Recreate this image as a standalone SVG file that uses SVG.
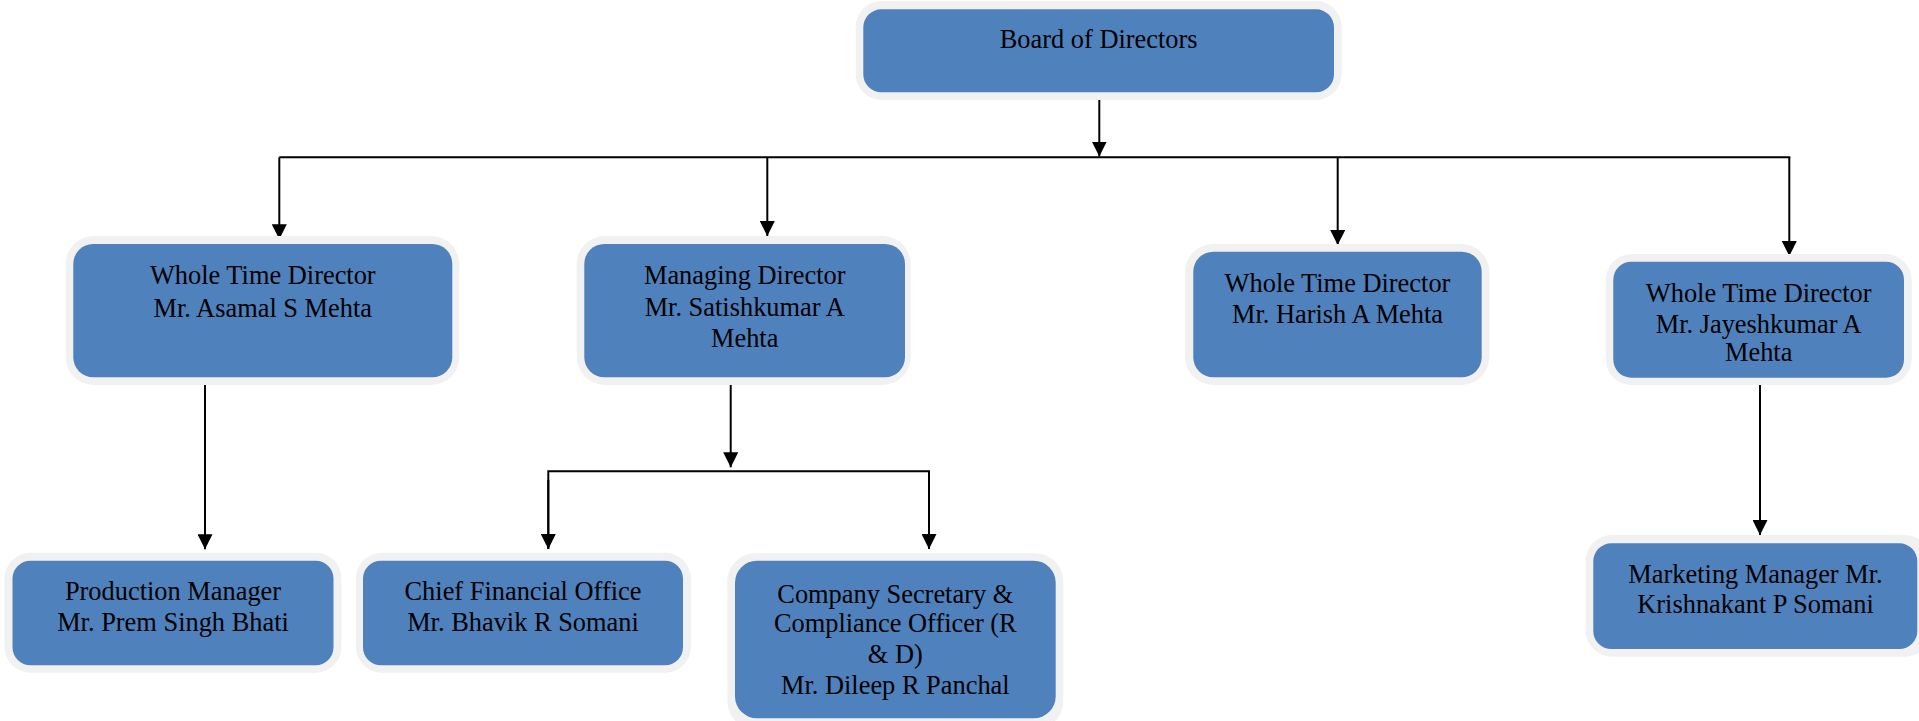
<svg xmlns="http://www.w3.org/2000/svg" width="1919" height="721" viewBox="0 0 1919 721">
<style>
.outer{fill:#F1F1F1;}
.inner{fill:#4F81BD;}
.t{font-family:"Liberation Serif","Times New Roman",serif;font-size:26.4px;fill:#000;text-anchor:middle;}
.c{fill:none;stroke:#000;stroke-width:2;}
</style>
<defs>
<marker id="arr" markerUnits="userSpaceOnUse" viewBox="0 0 15 15" refX="15" refY="7.5" markerWidth="15" markerHeight="15" orient="auto">
<path d="M0,0 L15,7.5 L0,15 z" fill="#000"/>
</marker>
</defs>
<rect width="1919" height="721" fill="#fff"/>
<g id="connectors">
<line class="c" x1="1099.3" y1="97" x2="1099.3" y2="156.5" marker-end="url(#arr)"/>
<line class="c" x1="279.3" y1="157.3" x2="1790.3" y2="157.3"/>
<line class="c" x1="279.3" y1="157.3" x2="279.3" y2="239.3" marker-end="url(#arr)"/>
<line class="c" x1="767.3" y1="157.3" x2="767.3" y2="236" marker-end="url(#arr)"/>
<line class="c" x1="1337.7" y1="157.3" x2="1337.7" y2="245" marker-end="url(#arr)"/>
<line class="c" x1="1789.3" y1="157.3" x2="1789.3" y2="256" marker-end="url(#arr)"/>
<line class="c" x1="205" y1="381.7" x2="205" y2="549.3" marker-end="url(#arr)"/>
<line class="c" x1="730.7" y1="377.3" x2="730.7" y2="467.3" marker-end="url(#arr)"/>
<polyline class="c" points="548.3,549 548.3,471.3 929,471.3 929,549"/>
<line class="c" x1="548.3" y1="480" x2="548.3" y2="549" marker-end="url(#arr)"/>
<line class="c" x1="929" y1="480" x2="929" y2="549" marker-end="url(#arr)"/>
<line class="c" x1="1760" y1="378" x2="1760" y2="535" marker-end="url(#arr)"/>
</g>
<g id="board">
<rect class="outer" x="855.7" y="1" width="486" height="99" rx="26"/>
<rect class="inner" x="863.3" y="9.3" width="470.7" height="83" rx="18"/>
<text class="t" x="1098.7" y="47.7">Board of Directors</text>
</g>
<g id="asamal">
<rect class="outer" x="65.7" y="236" width="393.6" height="149" rx="28"/>
<rect class="inner" x="73.3" y="244" width="379" height="133.3" rx="20"/>
<text class="t" x="262.8" y="284.3">Whole Time Director</text>
<text class="t" x="262.8" y="317.3">Mr. Asamal S Mehta</text>
</g>
<g id="satish">
<rect class="outer" x="576.7" y="236" width="334" height="149" rx="28"/>
<rect class="inner" x="584.3" y="244" width="320.7" height="133.3" rx="20"/>
<text class="t" x="744.7" y="284.3">Managing Director</text>
<text class="t" x="744.7" y="316">Mr. Satishkumar A</text>
<text class="t" x="744.7" y="347.3">Mehta</text>
</g>
<g id="harish">
<rect class="outer" x="1185" y="244" width="304.3" height="141" rx="28"/>
<rect class="inner" x="1193.3" y="251.7" width="288.4" height="125.6" rx="20"/>
<text class="t" x="1337.5" y="291.7">Whole Time Director</text>
<text class="t" x="1337.5" y="323.3">Mr. Harish A Mehta</text>
</g>
<g id="jayesh">
<rect class="outer" x="1605.7" y="254" width="306" height="131" rx="26"/>
<rect class="inner" x="1613.3" y="261.7" width="290.7" height="116" rx="18"/>
<text class="t" x="1758.7" y="301.7">Whole Time Director</text>
<text class="t" x="1758.7" y="332.7">Mr. Jayeshkumar A</text>
<text class="t" x="1758.7" y="361">Mehta</text>
</g>
<g id="production">
<rect class="outer" x="4.5" y="552.7" width="337" height="120" rx="26"/>
<rect class="inner" x="12.5" y="560.7" width="321" height="104.6" rx="18"/>
<text class="t" x="173" y="600">Production Manager</text>
<text class="t" x="173" y="630.7">Mr. Prem Singh Bhati</text>
</g>
<g id="cfo">
<rect class="outer" x="355.8" y="552.7" width="335.2" height="120" rx="26"/>
<rect class="inner" x="363" y="560.7" width="320" height="104.6" rx="18"/>
<text class="t" x="523" y="600">Chief Financial Office</text>
<text class="t" x="523" y="630.7">Mr. Bhavik R Somani</text>
</g>
<g id="secretary">
<rect class="outer" x="727.3" y="553.3" width="336" height="176" rx="28"/>
<rect class="inner" x="735" y="560.7" width="320.7" height="157.6" rx="22"/>
<text class="t" x="895.3" y="602.7">Company Secretary &amp;</text>
<text class="t" x="895.3" y="632.3">Compliance Officer (R</text>
<text class="t" x="895.3" y="663.3">&amp; D)</text>
<text class="t" x="895.3" y="694">Mr. Dileep R Panchal</text>
</g>
<g id="marketing">
<rect class="outer" x="1585.7" y="535" width="345" height="121.7" rx="26"/>
<rect class="inner" x="1593.3" y="543.3" width="324" height="105.7" rx="18"/>
<text class="t" x="1755.5" y="582.7">Marketing Manager Mr.</text>
<text class="t" x="1755.5" y="612.7">Krishnakant P Somani</text>
</g>
</svg>
